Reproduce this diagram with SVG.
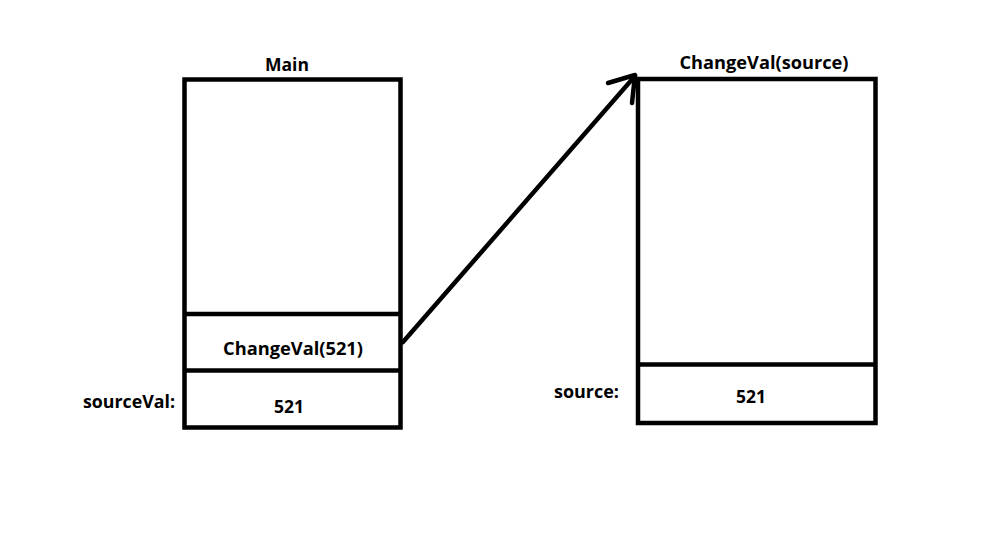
<svg xmlns="http://www.w3.org/2000/svg" width="985" height="543" viewBox="0 0 985 543">
<style>
.box{fill:none;stroke:#000;stroke-width:4.5}
.t{font-family:"Open Sans","Noto Sans","DejaVu Sans",sans-serif;font-weight:bold;font-size:18px;fill:#000}
.c{stroke:#000;stroke-width:4.5;fill:none;stroke-linecap:round;stroke-linejoin:round}
</style>
<rect width="985" height="543" fill="#fff"/>
<g id="main">
<rect class="box" x="184.5" y="79.5" width="216" height="348"/>
<line class="box" x1="184.5" y1="314" x2="400.5" y2="314"/>
<line class="box" x1="184.5" y1="370.5" x2="400.5" y2="370.5"/>
<text class="t" x="287" y="71" text-anchor="middle" textLength="44" lengthAdjust="spacingAndGlyphs">Main</text>
<text class="t" x="293" y="355" text-anchor="middle" textLength="140" lengthAdjust="spacingAndGlyphs">ChangeVal(521)</text>
<text class="t" x="289" y="413" text-anchor="middle" textLength="30" lengthAdjust="spacingAndGlyphs">521</text>
<text class="t" x="175" y="408" text-anchor="end" textLength="92" lengthAdjust="spacingAndGlyphs">sourceVal:</text>
</g>
<g id="changeval">
<text class="t" x="764" y="69" text-anchor="middle" textLength="169" lengthAdjust="spacingAndGlyphs">ChangeVal(source)</text>
<rect class="box" x="638" y="79" width="237.5" height="344" fill="#fff"/>
<line class="box" x1="638" y1="364.5" x2="875.5" y2="364.5"/>
<text class="t" x="751" y="403" text-anchor="middle" textLength="30" lengthAdjust="spacingAndGlyphs">521</text>
<text class="t" x="619" y="398" text-anchor="end" textLength="65" lengthAdjust="spacingAndGlyphs">source:</text>
</g>
<g id="connectors">
<line class="c" x1="403" y1="342" x2="635" y2="76"/>
<polyline class="c" points="608,83 635,75 632,103"/>
</g>
</svg>
